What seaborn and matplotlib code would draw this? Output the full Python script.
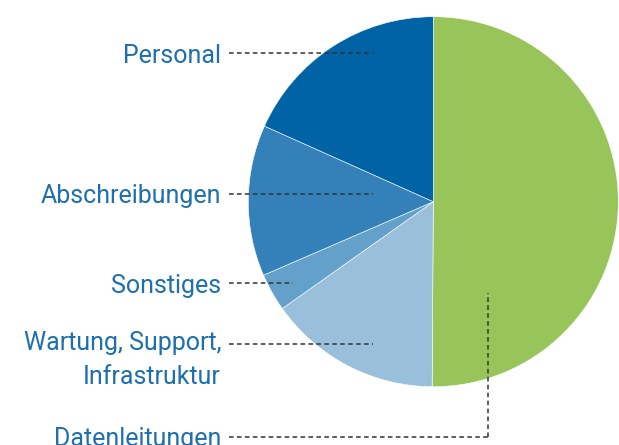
#!/usr/bin/env python3
# -*- coding: utf-8 -*-

#------------------
# IMPORTS
#------------------
import matplotlib
matplotlib.use('Agg')
import matplotlib.pyplot as plt
import seaborn as sns

# --------------------
# DATA (percent shares)
# --------------------
categories = ['Datenleitungen', 'Wartung, Support,\nInfrastruktur', 'Sonstiges',
              'Abschreibungen', 'Personal']
shares = [50.1, 15.1, 3.3, 13.2, 18.3]
colors = ['#97c55a', '#9abfda', '#63a0ca', '#3381b8', '#0063a6']

# --------------------
# LAYOUT (pixels, y measured from the top)
# --------------------
W, H = 619, 445
center = (433.3, 201.7)
radius = 185
text_x = 221
line_x0 = 229
# y of leader line, x end of leader line, (optional) vertical end y
leaders = {
    'Personal': (53.3, 372.7, None),
    'Abschreibungen': (194.0, 372.7, None),
    'Sonstiges': (283.3, 293.3, None),
    'Wartung, Support,\nInfrastruktur': (343.7, 372.7, None),
    'Datenleitungen': (436.7, 487.7, 293.3),
}

label_color = '#1d6fae'
line_color = '#333333'


def flip(y):
    return H - y


def main():
    sns.set_theme(style='white')
    plt.rcParams['font.family'] = ['Roboto', 'DejaVu Sans']

    fig = plt.figure(figsize=(W / 100, H / 100), dpi=100)
    ax = fig.add_axes([0, 0, 1, 1])

    ax.pie(shares, colors=colors, startangle=90, counterclock=False,
           center=(center[0], flip(center[1])), radius=radius,
           wedgeprops=dict(linewidth=0.4, edgecolor='white'))
    ax.set_xlim(0, W)
    ax.set_ylim(0, H)
    ax.set_aspect('equal')
    ax.axis('off')

    for cat in categories:
        y, x1, yv = leaders[cat]
        ax.plot([line_x0, x1], [flip(y), flip(y)], color=line_color, lw=1.1,
                dashes=(3, 2.2), solid_capstyle='butt', zorder=5)
        if yv is not None:
            ax.plot([x1, x1], [flip(y), flip(yv)], color=line_color, lw=1.1,
                    dashes=(3, 2.2), zorder=5)
        if '\n' in cat:
            # leader points at the first line of the label
            ax.text(text_x, flip(y) + 13, cat, ha='right', va='top',
                    multialignment='right', fontsize=18, color=label_color,
                    linespacing=1.55)
        else:
            ax.text(text_x, flip(y), cat, ha='right', va='center_baseline',
                    fontsize=18, color=label_color)

    fig.savefig('out.png', dpi=100)
    plt.close(fig)


if __name__ == '__main__':
    main()
